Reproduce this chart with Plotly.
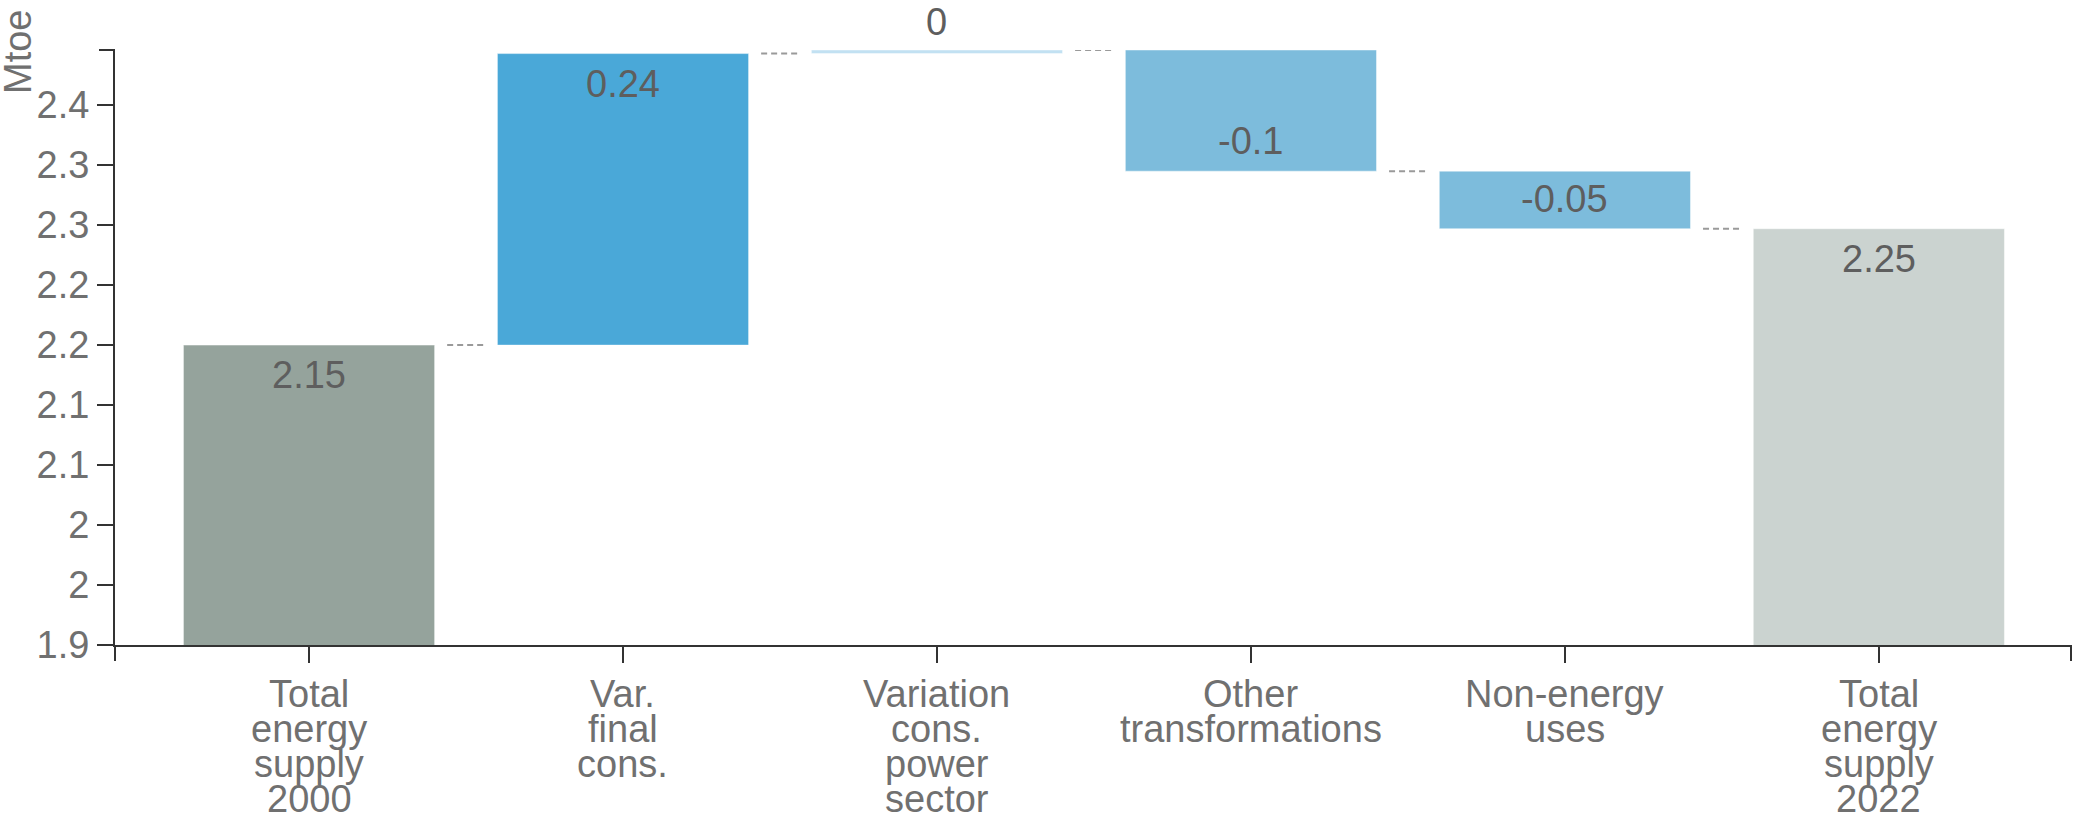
import plotly.graph_objects as go

# ---- data ----
categories = ["Total energy supply 2000", "Var. final cons.", "Variation cons. power sector",
              "Other transformations", "Non-energy uses", "Total energy supply 2022"]
label_lines = [["Total", "energy", "supply", "2000"],
               ["Var.", "final", "cons."],
               ["Variation", "cons.", "power", "sector"],
               ["Other", "transformations"],
               ["Non-energy", "uses"],
               ["Total", "energy", "supply", "2022"]]
measures = ["total", "relative", "relative", "relative", "relative", "total"]
values = [2.15, 0.243, 0.003, -0.101, -0.048, 2.247]
value_text = ["2.15", "0.24", "0", "-0.1", "-0.05", "2.25"]
bar_colors = ["#95a39c", "#4aa8d8", "#c2e1f2", "#7dbcdc", "#7dbcdc", "#cbd3d0"]
y_tickvals = [1.9, 1.95, 2.0, 2.05, 2.1, 2.15, 2.2, 2.25, 2.3, 2.35]
y_ticktext = ["1.9", "2", "2", "2.1", "2.1", "2.2", "2.2", "2.3", "2.3", "2.4"]
y_min = 1.9
y_title = "Mtoe"

# ---- derived waterfall geometry ----
bases, heights, ends = [], [], []
running = 0.0
for m, v in zip(measures, values):
    if m == "total":
        bases.append(0.0)
        heights.append(v)
        running = v
    else:
        bases.append(running)
        heights.append(v)
        running = running + v
    ends.append(running)
y_max = max(max(b, b + h) for b, h in zip(bases, heights))

FONT = "Liberation Sans, Arial, sans-serif"
FS = 38
BAR_W = 0.8

fig = go.Figure()
fig.add_trace(go.Bar(
    x=categories, y=heights, base=bases, width=BAR_W,
    marker=dict(color=bar_colors, line=dict(color="rgba(255,255,255,0.45)", width=1)),
    hoverinfo="skip", showlegend=False,
))

shapes = []
# connectors
for i in range(len(categories) - 1):
    shapes.append(dict(type="line", xref="x", yref="y",
                       x0=i + BAR_W / 2 + 0.04, x1=i + 1 - BAR_W / 2 - 0.04,
                       y0=ends[i], y1=ends[i],
                       line=dict(color="#9a9a9a", width=2, dash="6px,4px")))
# outer ticks at axis ends
shapes.append(dict(type="line", xref="paper", yref="paper", xsizemode="pixel", xanchor=0,
                   x0=-16, x1=0, y0=1, y1=1, line=dict(color="#333", width=2)))
for xp in (0, 1):
    shapes.append(dict(type="line", xref="paper", yref="paper", ysizemode="pixel", yanchor=0,
                       x0=xp, x1=xp, y0=-16, y1=0, line=dict(color="#333", width=2)))

annotations = []
# value labels
for i, (b, h, t) in enumerate(zip(bases, heights, value_text)):
    end = b + h
    px_h = abs(h) / (y_max - y_min) * 595
    if px_h < 20:
        shift = 28
    elif h >= 0:
        shift = -30
    else:
        shift = 30
    annotations.append(dict(x=categories[i], y=end, xref="x", yref="y", text=t,
                            showarrow=False, yshift=shift, yanchor="middle",
                            font=dict(family=FONT, size=FS, color="#5e5e5e")))
# category labels, one annotation per line for tight line spacing
for i, lines in enumerate(label_lines):
    for j, ln in enumerate(lines):
        annotations.append(dict(x=categories[i], y=0, xref="x", yref="paper", text=ln,
                                showarrow=False, yanchor="middle", yshift=-49 - 35 * j,
                                font=dict(family=FONT, size=FS, color="#707070")))
# axis title
annotations.append(dict(x=0, y=1, xref="paper", yref="paper", text=y_title, textangle=-90,
                        showarrow=False, xanchor="center", yanchor="middle", xshift=-97, yshift=-2,
                        font=dict(family=FONT, size=FS, color="#707070")))

fig.update_layout(
    width=2075, height=821,
    margin=dict(l=115, r=4, t=50, b=176),
    paper_bgcolor="white", plot_bgcolor="white",
    bargap=0.2,
    shapes=shapes, annotations=annotations,
    xaxis=dict(type="category", range=[-0.618, len(categories) - 1 + 0.612],
               showline=True, linecolor="#333", linewidth=2,
               ticks="outside", ticklen=16, tickwidth=2, tickcolor="#333",
               showticklabels=False, showgrid=False, zeroline=False, fixedrange=True),
    yaxis=dict(range=[y_min, y_max], tickvals=y_tickvals, ticktext=y_ticktext,
               showline=True, linecolor="#333", linewidth=2,
               ticks="outside", ticklen=16, tickwidth=2, tickcolor="#333",
               tickfont=dict(family=FONT, size=FS, color="#707070"),
               showgrid=False, zeroline=False, fixedrange=True),
    font=dict(family=FONT, size=FS, color="#707070"),
)

fig.write_html("out.html", config={"displayModeBar": False},
               post_script="document.body.style.margin='0';document.body.style.overflow='hidden';")
